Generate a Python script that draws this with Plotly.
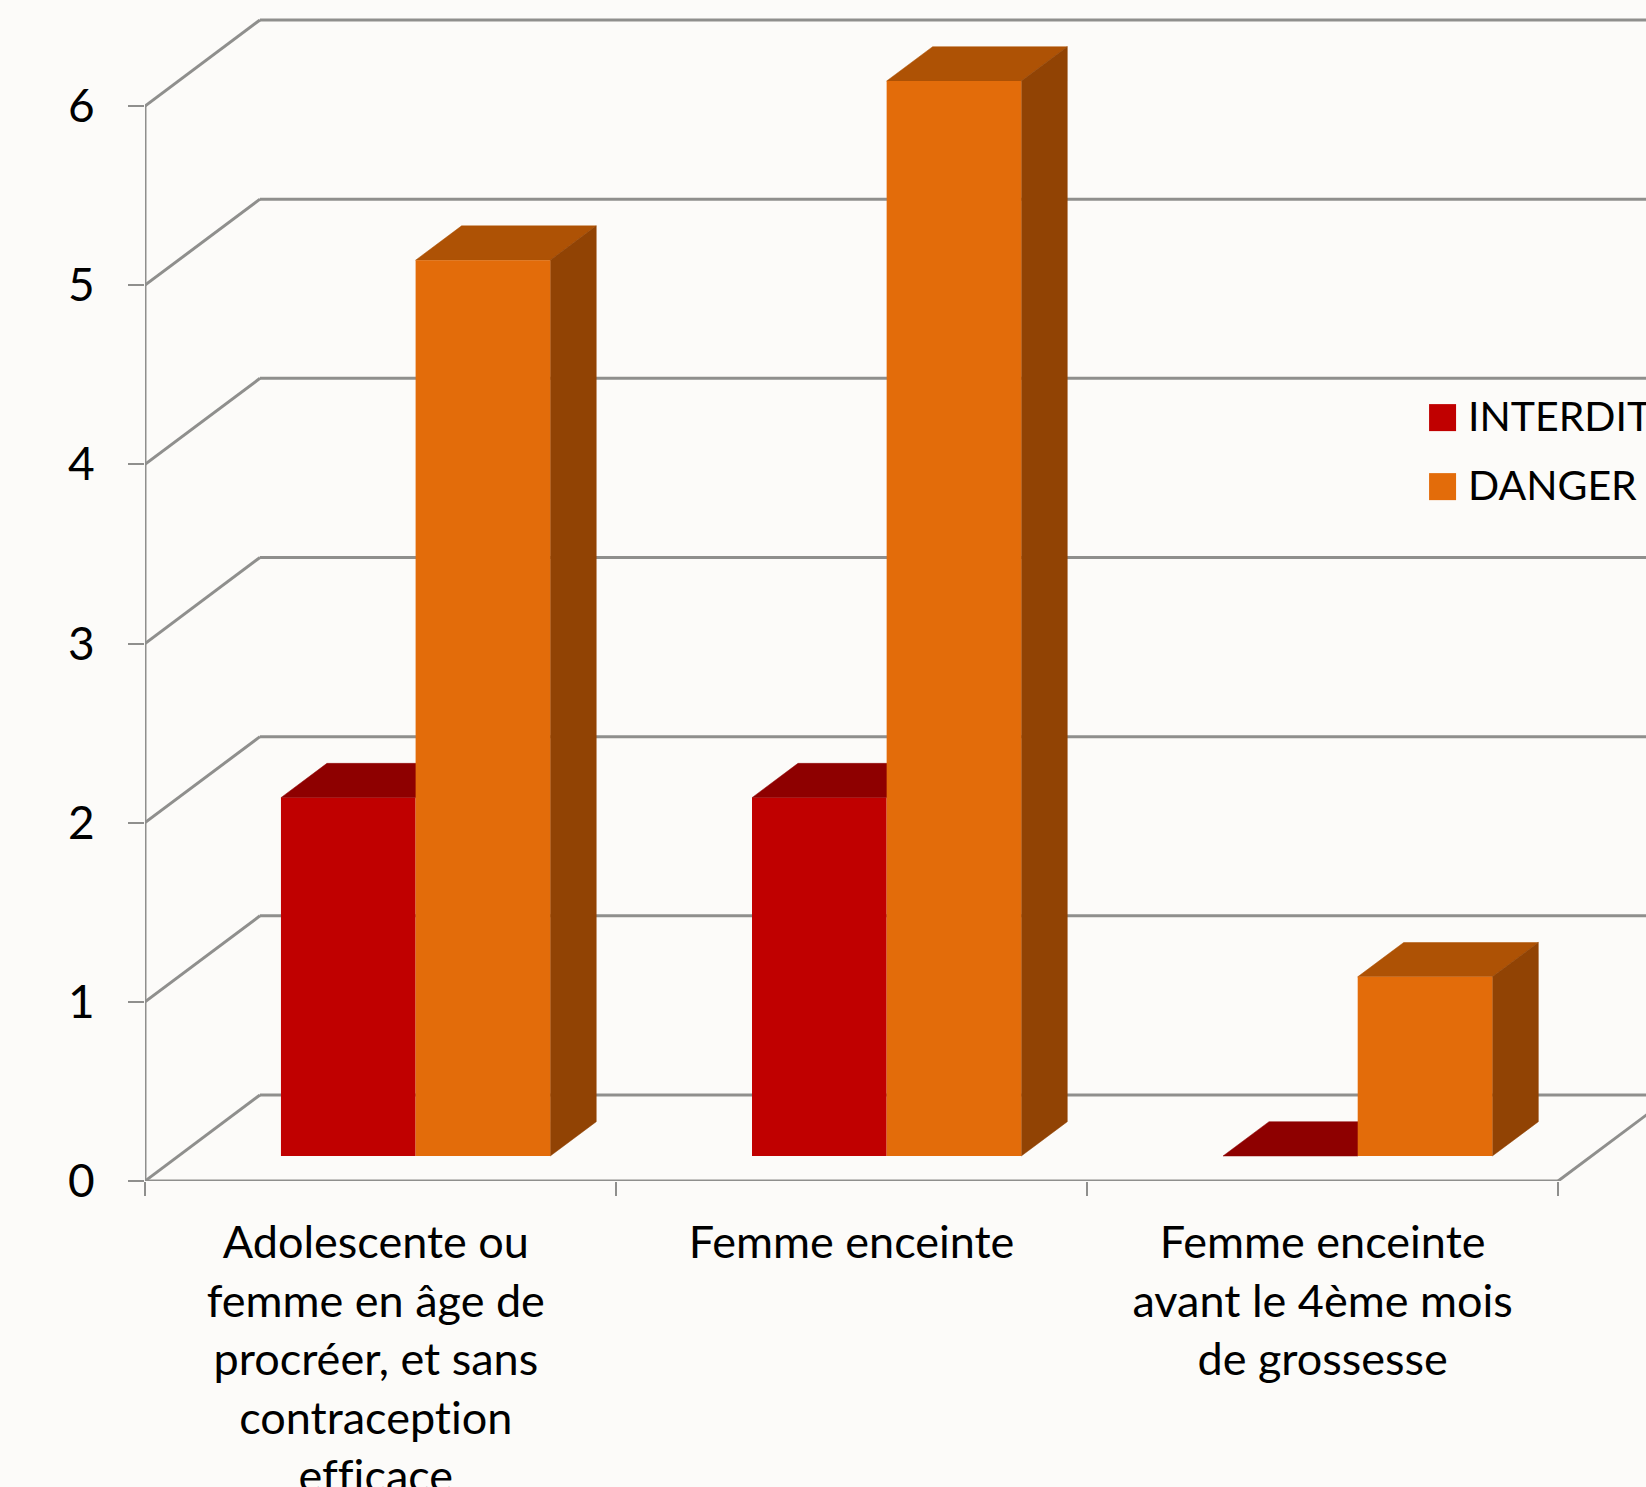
import plotly.graph_objects as go

categories = ["Adolescente ou<br>femme en âge de<br>procréer, et sans<br>contraception<br>efficace",
              "Femme enceinte",
              "Femme enceinte<br>avant le 4ème mois<br>de grossesse"]
series_names = ["INTERDIT", "DANGER"]
interdit = [2, 2, 0]
danger = [5, 6, 1]
y_ticks = [0, 1, 2, 3, 4, 5, 6]

W, H = 1646, 1487
ML, MB = 144.5, H - 1180.7
PX_X, PX_Y = 471.2, 179.12

BG = "#FCFBF9"
GRID = "#8F8F8D"
RED, RED_TOP = "#C00000", "#8E0000"
ORG, ORG_TOP, ORG_SIDE = "#E36C0A", "#AE5205", "#914304"
FONT = "Lato"

wall_dx, wall_dy = 115 / PX_X, 86 / PX_Y
bar_dx, bar_dy = 46 / PX_X, 34.3 / PX_Y
floor = 25 / PX_Y
group_off, bar_w = 136 / PX_X, 134.7 / PX_X
xmax = (W - ML) / PX_X
ymax = (H - MB) / PX_Y
n = len(categories)


def line(x0, y0, x1, y1):
    return dict(type="line", x0=x0, y0=y0, x1=x1, y1=y1, xref="x", yref="y", layer="below",
                line=dict(color=GRID, width=3))


def poly(pts, color):
    path = "M" + " L".join(f"{a},{b}" for a, b in pts) + " Z"
    return dict(type="path", path=path, xref="x", yref="y", layer="below",
                fillcolor=color, line=dict(color=color, width=0.5))


shapes = []
for v in y_ticks:
    shapes.append(line(0, v, wall_dx, v + wall_dy))
    shapes.append(line(wall_dx, v + wall_dy, n + wall_dx, v + wall_dy))
shapes.append(line(n, 0, n + wall_dx, wall_dy))

for i in range(n):
    xr = i + group_off
    xo = xr + bar_w
    tr = interdit[i] + floor
    shapes.append(poly([(xr, tr), (xr + bar_w, tr), (xr + bar_w + bar_dx, tr + bar_dy), (xr + bar_dx, tr + bar_dy)], RED_TOP))
    to = danger[i] + floor
    shapes.append(poly([(xo, to), (xo + bar_w, to), (xo + bar_w + bar_dx, to + bar_dy), (xo + bar_dx, to + bar_dy)], ORG_TOP))
    shapes.append(poly([(xo + bar_w, floor), (xo + bar_w + bar_dx, floor + bar_dy),
                        (xo + bar_w + bar_dx, to + bar_dy), (xo + bar_w, to)], ORG_SIDE))

fig = go.Figure()
fig.add_trace(go.Bar(name=series_names[0], x=[i + group_off + bar_w / 2 for i in range(n)], y=interdit,
                     base=floor, width=bar_w, marker=dict(color=RED, line=dict(width=0))))
fig.add_trace(go.Bar(name=series_names[1], x=[i + group_off + bar_w * 1.5 for i in range(n)], y=danger,
                     base=floor, width=bar_w, marker=dict(color=ORG, line=dict(width=0))))
fig.add_trace(go.Scatter(x=[0, 0], y=[0, y_ticks[-1]], mode="lines", cliponaxis=False,
                         line=dict(color=GRID, width=3), showlegend=False))
fig.add_trace(go.Scatter(x=[0, n], y=[0, 0], mode="lines", cliponaxis=False,
                         line=dict(color=GRID, width=3), showlegend=False))

# legend, drawn by hand so that swatches have the reference size
px = lambda p: (p - ML) / (W - ML)
py = lambda p: 1 - p / (H - MB)
for name, color, top in zip(series_names, [RED, ORG], [404, 473]):
    shapes.append(dict(type="rect", xref="paper", yref="paper", x0=px(1429), x1=px(1456),
                       y0=py(top + 27), y1=py(top), fillcolor=color, line=dict(width=0), layer="above"))

annotations = [dict(text=name, xref="paper", yref="paper", x=px(1466), y=py(top + 11.5), xanchor="left",
                    yanchor="middle", showarrow=False, font=dict(family=FONT, size=41, color="#000000"))
               for name, top in zip(series_names, [404, 473])]

fig.update_layout(
    width=W, height=H, barmode="overlay", showlegend=False, paper_bgcolor=BG, plot_bgcolor=BG,
    margin=dict(l=ML, r=0, t=0, b=MB, pad=0, autoexpand=False), shapes=shapes, annotations=annotations,
    hovermode=False, font=dict(family=FONT, color="#000000"),
    xaxis=dict(range=[0, xmax], showgrid=False, zeroline=False, showline=False, tickmode="array",
               tickvals=[0.49, 1.5, 2.5], ticktext=categories, tickangle=0, ticks="", ticklen=0,
               ticklabelstandoff=31, tickfont=dict(family=FONT, size=45, color="#000000"),
               minor=dict(tickmode="array", tickvals=list(range(n + 1)), ticks="outside", ticklen=14,
                          tickwidth=2, tickcolor=GRID, showgrid=False)),
    yaxis=dict(range=[0, ymax], showgrid=False, zeroline=False, showline=False, tickmode="array",
               tickvals=y_ticks, ticktext=[str(v) for v in y_ticks], ticks="outside", ticklen=16,
               tickwidth=2, tickcolor=GRID, ticklabelstandoff=24,
               tickfont=dict(family=FONT, size=46, color="#000000")),
)

post = ("document.body.style.margin='0';document.documentElement.style.overflow='hidden';"
        "var s=document.createElement('style');"
        "s.textContent='svg text,svg tspan{font-variant-ligatures:none !important;"
        "font-feature-settings:\"liga\" 0,\"clig\" 0,\"dlig\" 0 !important;}';"
        "document.head.appendChild(s);")
fig.write_html("out.html", config=dict(displayModeBar=False), post_script=post)
